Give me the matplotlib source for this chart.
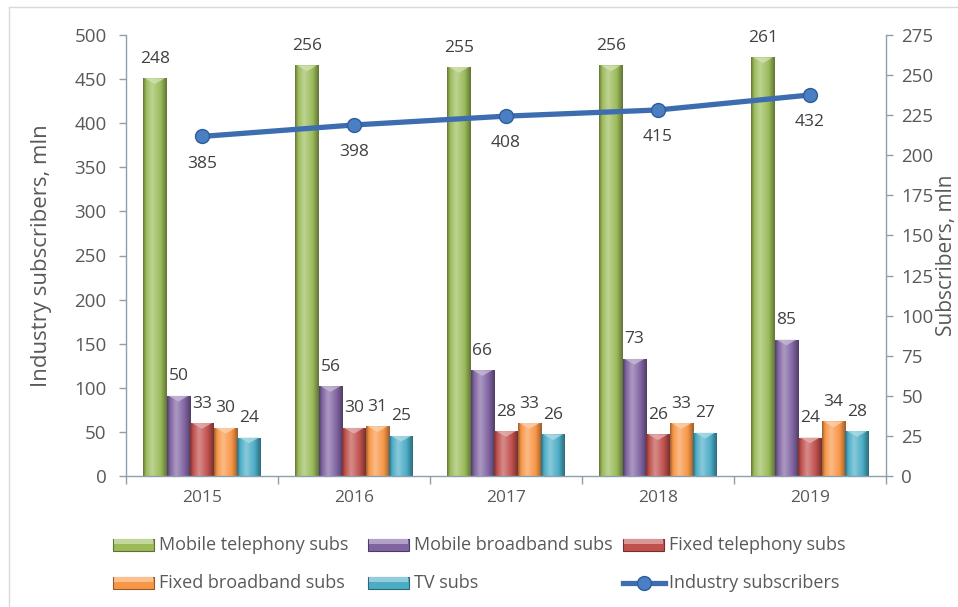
import numpy as np
import matplotlib
matplotlib.use("Agg")
import matplotlib.pyplot as plt
import matplotlib.colors as mcolors
from matplotlib.colors import LinearSegmentedColormap
from matplotlib.patches import Rectangle, Polygon
from matplotlib.lines import Line2D

plt.rcParams['font.family'] = ['Open Sans', 'DejaVu Sans']

# ---- data -------------------------------------------------------------
years = ['2015', '2016', '2017', '2018', '2019']
mobile_telephony = [248, 256, 255, 256, 261]
mobile_broadband = [50, 56, 66, 73, 85]
fixed_telephony = [33, 30, 28, 26, 24]
fixed_broadband = [30, 31, 33, 33, 34]
tv_subs = [24, 25, 26, 27, 28]
industry_subscribers = [385, 398, 408, 415, 432]

series_names = ['Mobile telephony subs', 'Mobile broadband subs', 'Fixed telephony subs',
                'Fixed broadband subs', 'TV subs']
series_values = [mobile_telephony, mobile_broadband, fixed_telephony, fixed_broadband, tv_subs]
series_colors = ['#9BBB59', '#8064A2', '#C0504D', '#F79646', '#4BACC6']
line_color = '#3D6DB0'

TEXT = '#595959'
SPINE = '#8C9FAD'

W, H = 958, 607
fig = plt.figure(figsize=(W / 100, H / 100), dpi=100)


def fx(px):
    return px / W


def fy(py):
    return 1 - py / H


# outer chart frame
fig.add_artist(Line2D([fx(9), fx(9)], [fy(7), 0], color='#D9D9D9', lw=1))
fig.add_artist(Line2D([fx(9), 1], [fy(7), fy(7)], color='#D9D9D9', lw=1))

ax = fig.add_axes([fx(126), fy(476), fx(886 - 126), (476 - 35) / H])
ax2 = ax.twinx()


def shaded_bar(axis, rect, color):
    base = np.array(mcolors.to_rgb(color))
    dark = base * 0.62
    light = base + (1 - base) * 0.35
    cmap = LinearSegmentedColormap.from_list(
        'bar', [(0.0, dark), (0.12, base), (0.38, light), (0.75, base), (1.0, dark)])
    grad = np.linspace(0, 1, 64).reshape(1, -1)
    x0, y0 = rect.get_x(), rect.get_y()
    w, h = rect.get_width(), rect.get_height()
    im = axis.imshow(grad, cmap=cmap, extent=(x0, x0 + w, y0, y0 + h), aspect='auto',
                     origin='lower', interpolation='bicubic', zorder=rect.get_zorder() + 0.1)
    im.set_clip_path(rect)
    # bevelled top
    d = 3.6
    cap = Polygon([(x0 + 0.08 * w, y0 + h), (x0 + 0.92 * w, y0 + h), (x0 + 0.5 * w, y0 + h - d)],
                  closed=True, facecolor=base + (1 - base) * 0.55, edgecolor='none',
                  alpha=0.8, zorder=rect.get_zorder() + 0.2)
    axis.add_patch(cap)


x = np.arange(len(years))
bw = 0.155
offsets = [-2, -1, 0, 1, 2]
for vals, col, off in zip(series_values, series_colors, offsets):
    bars = ax2.bar(x + off * bw, vals, width=bw, color=col, edgecolor='none', zorder=2)
    for rect, v in zip(bars, vals):
        shaded_bar(ax2, rect, col)
        ax2.annotate(str(v), (rect.get_x() + rect.get_width() / 2, v), xytext=(0, 14),
                     textcoords='offset points', ha='center', va='center',
                     fontsize=12.5, color='#404040', zorder=5)

ax2.set_ylim(0, 275)
ax2.set_yticks(np.arange(0, 276, 25))
ax2.set_xlim(-0.5, len(years) - 0.5)

# total industry subscribers line (left axis)
ax.plot(x, industry_subscribers, color=line_color, lw=3.8, marker='o', markersize=10,
        markerfacecolor='#4A7FC4', markeredgecolor='#2F5C9A', markeredgewidth=1, zorder=6,
        solid_capstyle='round')
for xi, v in zip(x, industry_subscribers):
    ax.annotate(str(v), (xi, v), xytext=(0, -19.5), textcoords='offset points',
                ha='center', va='center', fontsize=12.5, color='#404040')

ax.set_ylim(0, 500)
ax.set_yticks(np.arange(0, 501, 50))
ax.set_xlim(-0.5, len(years) - 0.5)
ax.set_zorder(ax2.get_zorder() + 1)
ax.patch.set_visible(False)

# axes styling
ax.set_xticks(x)
ax.set_xticklabels(years)
ax.set_xticks(np.arange(-0.5, len(years), 1.0), minor=True)
ax.tick_params(axis='x', which='major', length=0, pad=10, labelsize=12.5, labelcolor=TEXT)
ax.tick_params(axis='x', which='minor', length=6, width=1, color=SPINE, direction='out')
ax.tick_params(axis='y', length=5, width=1, color=SPINE, labelsize=13.5, labelcolor=TEXT, pad=9)
ax2.tick_params(axis='y', length=5, width=1, color=SPINE, labelsize=13.5, labelcolor=TEXT, pad=6)

for a in (ax, ax2):
    a.spines['top'].set_visible(False)
    for s in ('left', 'right', 'bottom'):
        a.spines[s].set_color(SPINE)
        a.spines[s].set_linewidth(1)
ax.spines['right'].set_visible(False)
ax2.spines['left'].set_visible(False)
ax2.spines['bottom'].set_visible(False)

ax.set_ylabel('Industry subscribers, mln', fontsize=16, color=TEXT)
ax.yaxis.set_label_coords(-(126 - 52) / (886 - 126), 0.5)
ax2.set_ylabel('Subscribers, mln', fontsize=15, color=TEXT, rotation=90)
ax2.yaxis.set_label_coords(1 + (936 - 886) / (886 - 126), 0.5)

# legend drawn as figure artists
legend_items = [
    (series_names[0], series_colors[0], 113, 545),
    (series_names[1], series_colors[1], 368, 545),
    (series_names[2], series_colors[2], 623, 545),
    (series_names[3], series_colors[3], 113, 583),
    (series_names[4], series_colors[4], 368, 583),
]
for name, col, px, py in legend_items:
    base = np.array(mcolors.to_rgb(col))
    fig.add_artist(Rectangle((fx(px), fy(py + 6)), fx(41), 12 / H, facecolor=col,
                             edgecolor=base * 0.6, lw=0.8, transform=fig.transFigure))
    fig.add_artist(Rectangle((fx(px + 1), fy(py - 1)), fx(39), 5 / H,
                             facecolor=base + (1 - base) * 0.4, edgecolor='none',
                             transform=fig.transFigure))
    fig.text(fx(px + 46), fy(py), name, fontsize=13, color=TEXT, va='center', ha='left')

fig.add_artist(Line2D([fx(623), fx(665)], [fy(583), fy(583)], color=line_color, lw=3.8,
                      marker=None, transform=fig.transFigure))
fig.add_artist(Line2D([fx(644)], [fy(583)], color=line_color, marker='o', markersize=10,
                      markerfacecolor='#4A7FC4', markeredgecolor='#2F5C9A',
                      transform=fig.transFigure))
fig.text(fx(669), fy(583), 'Industry subscribers', fontsize=13, color=TEXT,
         va='center', ha='left')

fig.savefig('out.png', dpi=100)
